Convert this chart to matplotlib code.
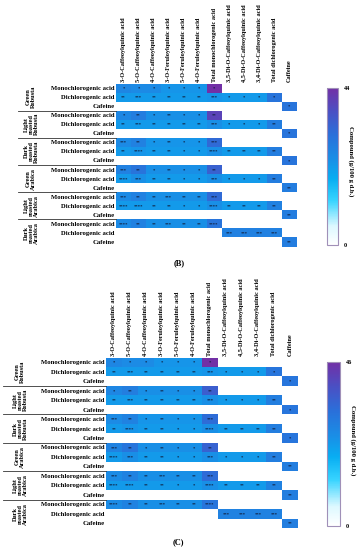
import matplotlib
matplotlib.use("Agg")
import matplotlib.pyplot as plt
import numpy as np
from matplotlib.colors import LinearSegmentedColormap

plt.rcParams['font.family'] = ['Liberation Serif', 'DejaVu Serif']
plt.rcParams['font.weight'] = 'bold'

W, H = 359, 550

compounds = ["3-O-Caffeoylquinic acid", "5-O-Caffeoylquinic acid",
             "4-O-Caffeoylquinic acid", "3-O-Feruloylquinic acid",
             "5-O-Feruloylquinic acid", "4-O-Feruloylquinic acid",
             "Total monochlorogenic acid", "3,5-Di-O-Caffeoylquinic acid",
             "4,5-Di-O-Caffeoylquinic acid", "3,4-Di-O-Caffeoylquinic acid",
             "Total dichlorogenic acid", "Caffeine"]
row_names = ["Monochlorogenic acid", "Dichlorogenic acid", "Cafeine"]
groups = ["Green\nRobusta", "Light\nroasted\nRobusta", "Dark\nroasted\nRobusta",
          "Green\nArabica", "Light\nroasted\nArabica", "Dark\nroasted\nArabica"]

# panel B values (g/100 g d.b.), None = empty cell
b_mono = [[26, 25, 25, 23, 23, 23, 44],
          [26, 28, 24, 24, 24, 24, 40],
          [25, 27, 23, 23, 23, 23, 32],
          [27, 30, 24, 24, 24, 24, 34],
          [25, 27, 24, 24, 24, 24, 32],
          [25, 27, 24, 24, 24, 24, 30]]
b_di = [[22, 22, 22, 22, 22, 22, 23, 22, 22, 22, 30],
        [22, 22, 22, 22, 22, 22, 24, 22, 22, 22, 28],
        [22, 23, 22, 22, 22, 22, 24, 22, 22, 22, 28],
        [22, 24, 22, 22, 22, 22, 24, 22, 22, 22, 28],
        [22, 22, 22, 22, 22, 22, 24, 22, 22, 22, 27],
        [None] * 7 + [27, 27, 27, 27]]
b_caf = [30, 30, 30, 28, 28, 28]

# panel C values
c_mono = [[27, 26, 26, 24, 24, 24, 46],
          [27, 29, 25, 25, 25, 25, 36],
          [26, 28, 24, 24, 24, 24, 33],
          [28, 31, 25, 25, 25, 25, 35],
          [26, 28, 25, 25, 25, 25, 33],
          [26, 28, 25, 25, 25, 25, 31]]
c_di = [[23, 23, 23, 23, 23, 23, 24, 23, 23, 23, 31],
        [23, 23, 23, 23, 23, 23, 25, 23, 23, 23, 29],
        [23, 24, 23, 23, 23, 23, 25, 23, 23, 23, 29],
        [23, 25, 23, 23, 23, 23, 25, 23, 23, 23, 29],
        [23, 23, 23, 23, 23, 23, 25, 23, 23, 23, 28],
        [None] * 7 + [28, 28, 28, 28]]
c_caf = [31, 31, 31, 29, 29, 29]

# significance marks
sig_mono = [["*", "*", "*", "*", "*", "*", "*"],
            ["*", "**", "*", "**", "*", "*", "**"],
            ["***", "**", "*", "**", "*", "*", "***"],
            ["***", "**", "*", "**", "*", "*", "**"],
            ["***", "**", "**", "***", "**", "**", "***"],
            ["****", "**", "**", "***", "**", "**", "****"]]
sig_di = [["**", "***", "**", "**", "**", "**", "***", "*", "*", "*", "*"],
          ["**", "***", "**", "**", "**", "**", "***", "*", "*", "*", "**"],
          ["**", "****", "**", "**", "*", "*", "****", "**", "**", "**", "**"],
          ["****", "***", "**", "**", "*", "*", "***", "*", "*", "*", "**"],
          ["****", "****", "**", "**", "*", "*", "****", "**", "**", "**", "**"],
          [""] * 7 + ["***", "***", "***", "***"]]
sig_caf = ["*", "*", "*", "**", "**", "**"]

cmap = LinearSegmentedColormap.from_list("cq", [
    (0.0, "#ffffff"), (0.12, "#dcf8ff"), (0.28, "#38d4ff"),
    (0.42, "#08aef2"), (0.55, "#1a8ee6"), (0.7, "#2a70da"),
    (0.85, "#4a50c4"), (1.0, "#7230a6")])


def build(mono, di, caf):
    arr = np.full((18, 12), np.nan)
    for g in range(6):
        arr[3 * g, :7] = mono[g]
        arr[3 * g + 1, :11] = [np.nan if v is None else v for v in di[g]]
        arr[3 * g + 2, 11] = caf[g]
    return arr


def box(x0, y0, x1, y1):
    return [x0 / W, 1 - y1 / H, (x1 - x0) / W, (y1 - y0) / H]


def panel(fig, arr, vmax, hm, cb, glabel_x, line_x0, cb_label_y, letter, letter_xy):
    ax = fig.add_axes(box(*hm))
    m = np.ma.masked_invalid(arr)
    pc = ax.pcolormesh(np.arange(13), np.arange(19), m, cmap=cmap, vmin=0, vmax=vmax)
    ax.set_xlim(0, 12)
    ax.set_ylim(18, 0)
    for s in ax.spines.values():
        s.set_visible(False)
    ax.xaxis.tick_top()
    ax.set_xticks(np.arange(12) + 0.5)
    ax.set_xticklabels(compounds, rotation=90, fontsize=4.5, fontweight='bold')
    ax.set_yticks(np.arange(18) + 0.5)
    ax.set_yticklabels(row_names * 6, fontsize=4.8, fontweight='bold')
    ax.tick_params(length=0, pad=1)
    # marks
    for g in range(6):
        for j, t in enumerate(sig_mono[g]):
            ax.text(j + 0.5, 3 * g + 0.55, t, ha='center', va='center', fontsize=3.3, color='#102040')
        for j, t in enumerate(sig_di[g]):
            ax.text(j + 0.5, 3 * g + 1.55, t, ha='center', va='center', fontsize=3.3, color='#102040')
        ax.text(11.5, 3 * g + 2.55, sig_caf[g], ha='center', va='center', fontsize=3.3, color='#102040')
    # group labels and separators
    x0, x1 = hm[0], hm[2]
    fx = lambda px: (px - x0) / (x1 - x0)
    tr = ax.get_yaxis_transform()
    for g in range(6):
        ax.text(fx(glabel_x), 3 * g + 1.5, groups[g], transform=tr, rotation=90,
                ha='center', va='center', fontsize=4.6, fontweight='bold',
                linespacing=1.0)
        if g > 0:
            ax.plot([fx(line_x0), 0], [3 * g, 3 * g], transform=tr, color='#333333',
                    lw=0.6, clip_on=False)
    # colorbar
    cax = fig.add_axes(box(*cb))
    c = fig.colorbar(pc, cax=cax, ticks=[0, vmax])
    c.ax.set_yticklabels(["0", str(vmax)], fontsize=4.5, fontweight='bold')
    c.ax.tick_params(length=0, pad=4)
    c.outline.set_edgecolor('#a090b8')
    c.outline.set_linewidth(0.8)
    fig.text((cb[2] + 13) / W, 1 - cb_label_y / H, "Compound (g/100 g d.b.)",
             rotation=270, ha='center', va='center', fontsize=4.8, fontweight='bold')
    fig.text(letter_xy[0] / W, 1 - letter_xy[1] / H, letter, ha='center', va='center',
             fontsize=6, fontweight='bold')
    return ax


fig = plt.figure(figsize=(W / 100, H / 100), dpi=100)
panel(fig, build(b_mono, b_di, b_caf), 44, (116, 83.5, 297, 246.5),
      (327, 88, 338, 245), 31, 18, 161, "(B)", (179, 263))
panel(fig, build(c_mono, c_di, c_caf), 46, (106, 357.5, 298, 528),
      (327, 362, 340, 526), 20, 3, 440, "(C)", (178, 542))
fig.savefig("out.png", dpi=100)
